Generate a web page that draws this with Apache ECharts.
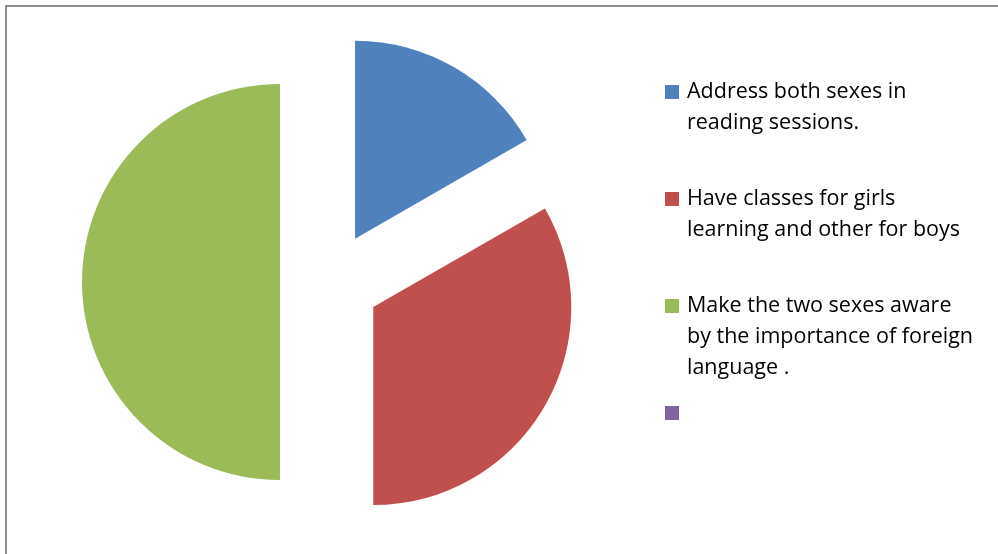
<!DOCTYPE html>
<html>
<head>
<meta charset="utf-8">
<script src="https://cdn.jsdelivr.net/npm/echarts@6/dist/echarts.min.js"></script>
<style>
  html, body { margin: 0; padding: 0; background: #ffffff; }
  #chart { width: 998px; height: 554px; }
</style>
</head>
<body>
<div id="chart"></div>
<script>
// ---- data ----
var categories = [
  'Address both sexes in reading sessions.',
  'Have classes for girls learning and other for boys',
  'Make the two sexes aware by the importance of foreign language .',
  ' '
];
var legendLines = [
  ['Address both sexes in', 'reading sessions.'],
  ['Have classes for girls', 'learning and other for boys'],
  ['Make the two sexes aware', 'by the importance of foreign', 'language .'],
  [' ']
];
var values = [16.7, 33.3, 50.0, 0];
var colors = ['#4F81BD', '#C0504D', '#9BBB59', '#8064A2'];

// ---- layout ----
var LH = 31;                 // legend line height
var FONT = 'Open Sans';
var FS = 21.5;
var legendCenters = [92, 199, 306, 413];

var chart = echarts.init(document.getElementById('chart'), null, { renderer: 'canvas' });

var legends = categories.map(function (name, i) {
  var lines = legendLines[i];
  var n = lines.length;
  var text = lines.map(function (l) { return '{t|' + l + '}'; }).join('\n');
  if (n > 1) text = '{p| }\n' + text;
  return {
    show: true,
    orient: 'vertical',
    left: 665,
    top: legendCenters[i] - (2 * n - 1) * LH / 2,
    padding: 0,
    itemWidth: 14,
    itemHeight: 14,
    icon: 'rect',
    selectedMode: false,
    data: [name],
    formatter: function () { return text; },
    textStyle: {
      fontFamily: FONT,
      fontSize: FS,
      lineHeight: LH,
      color: '#000000',
      rich: {
        p: { height: (n - 1) * LH, lineHeight: (n - 1) * LH, fontSize: 1 },
        t: { fontFamily: FONT, fontSize: FS, lineHeight: LH, height: LH, color: '#000000', padding: [0, 0, 0, 3] }
      }
    }
  };
});

var option = {
  animation: false,
  backgroundColor: '#ffffff',
  color: colors,
  legend: legends,
  graphic: [{
    type: 'rect',
    shape: { x: 6, y: 6, width: 1100, height: 700 },
    style: { fill: 'none', stroke: '#8e8e8e', lineWidth: 2 },
    silent: true
  }],
  series: [{
    type: 'pie',
    center: [330, 282],
    radius: [0, 198],
    startAngle: 90,
    clockwise: true,
    selectedMode: 'multiple',
    selectedOffset: 50,
    label: { show: false },
    labelLine: { show: false },
    emphasis: { disabled: true },
    itemStyle: { borderWidth: 0 },
    data: categories.map(function (name, i) {
      return { name: name, value: values[i], selected: true };
    })
  }]
};

chart.setOption(option);
</script>
</body>
</html>
